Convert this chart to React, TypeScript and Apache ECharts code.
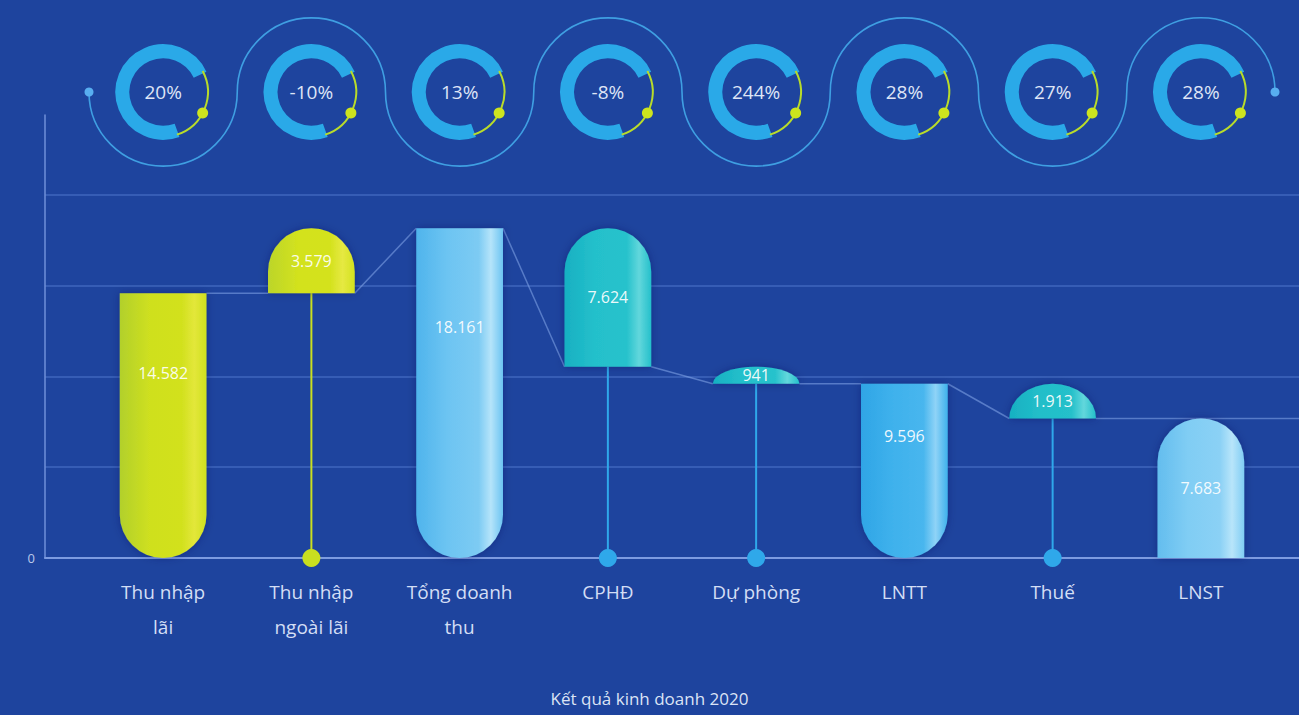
import React, { useEffect, useRef } from 'react';
import * as echarts from 'echarts';

// ---------- data ----------
const categories = ['Thu nhập\nlãi', 'Thu nhập\nngoài lãi', 'Tổng doanh\nthu', 'CPHĐ', 'Dự phòng', 'LNTT', 'Thuế', 'LNST'];
const values = [14582, 3579, 18161, 7624, 941, 9596, 1913, 7683];
const kinds = ['total', 'increase', 'total', 'decrease', 'decrease', 'total', 'decrease', 'total'];
const growthLabels = ['20%', '-10%', '13%', '-8%', '244%', '28%', '27%', '28%'];
const chartTitle = 'Kết quả kinh doanh 2020';
const yMin = 0;
const yMax = 24400;
const yInterval = 5000;

// ---------- styles ----------
const FONT = 'Open Sans';
const BG = '#1e449e';
const barColors: string[][] = [
  ['#b2d02c', '#cfe01f', '#e3e73a', '#d2e11f'],
  ['#bcd52a', '#d3e21e', '#e6e942', '#d4e21e'],
  ['#4fb4ec', '#6cc4f2', '#b5e4fa', '#7dcbf3'],
  ['#17b0c2', '#24c0cb', '#62d7dc', '#27c2cc'],
  ['#17b0c2', '#24c0cb', '#62d7dc', '#27c2cc'],
  ['#2fa5e6', '#3eb1ec', '#8fd3f7', '#48b6ee'],
  ['#17b0c2', '#22bec9', '#62d7dc', '#25c0ca'],
  ['#63bdee', '#80cdf4', '#b8e5fa', '#8bd1f5'],
];
const roundedEnd = ['bottom', 'top', 'bottom', 'top', 'top', 'bottom', 'top', 'top'];
const stemColors = ['', '#c9df1f', '', '#2fa8ea', '#2fa8ea', '', '#2fa8ea', ''];

// ---------- derived waterfall ----------
const lows: number[] = [];
const highs: number[] = [];
let running = 0;
values.forEach((v, i) => {
  if (kinds[i] === 'total') {
    lows.push(0);
    highs.push(v);
    running = v;
  } else if (kinds[i] === 'increase') {
    lows.push(running);
    highs.push(running + v);
    running += v;
  } else {
    lows.push(running - v);
    highs.push(running);
    running -= v;
  }
});
const anchors = kinds.map((k, i) => (k === 'total' ? highs[i] : lows[i]));

const fmt = (v: number) => String(v).replace(/\B(?=(\d{3})+(?!\d))/g, '.');

const BAR_RATIO = 0.585;

export default function App() {
  const ref = useRef<HTMLDivElement>(null);

  useEffect(() => {
    document.body.style.margin = '0';
    const chart = echarts.init(ref.current!, null, { renderer: 'svg' });

    const barData = values.map((_, i) => [i, lows[i], highs[i]]);
    const connectorData = anchors.slice(0, -1).map((a, i) => [i, a, anchors[i + 1]]);
    const ringData = growthLabels.map((_, i) => [i, 0]);

    const option: any = {
      animation: false,
      backgroundColor: BG,
      title: {
        text: chartTitle,
        left: 'center',
        top: 690,
        padding: 0,
        textStyle: { color: '#dbe3f5', fontSize: 17, fontWeight: 'normal', fontFamily: FONT },
      },
      grid: [
        { left: 45, right: 0, top: 115, bottom: 157 },
        { left: 89, right: 24, top: 115, bottom: 157 },
        { left: 89, right: 24, top: 17, height: 150 },
      ],
      xAxis: [
        {
          gridIndex: 0,
          type: 'category',
          data: [''],
          axisTick: { show: false },
          axisLabel: { show: false },
          axisLine: { show: true, lineStyle: { color: '#7d9be0', width: 2 } },
        },
        {
          gridIndex: 1,
          type: 'category',
          data: categories,
          axisTick: { show: false },
          axisLine: { show: false },
          axisLabel: {
            interval: 0,
            color: '#d3def5',
            fontSize: 19,
            lineHeight: 35,
            margin: 16,
            fontFamily: FONT,
          },
        },
        {
          gridIndex: 2,
          type: 'category',
          data: categories,
          show: false,
        },
      ],
      yAxis: [
        {
          gridIndex: 0,
          type: 'value',
          min: yMin,
          max: yMax,
          interval: yInterval,
          axisLine: { show: true, lineStyle: { color: '#6f8fd8', width: 1.5 } },
          axisTick: { show: false },
          axisLabel: {
            color: '#b9c8ea',
            fontSize: 13,
            fontFamily: FONT,
            margin: 10,
            formatter: (v: number) => (v === 0 ? '0' : ''),
          },
          splitLine: {
            show: true,
            showMinLine: false,
            showMaxLine: false,
            lineStyle: { color: 'rgba(105,145,228,0.45)', width: 1.5 },
          },
        },
        { gridIndex: 1, type: 'value', min: yMin, max: yMax, interval: yInterval, show: false },
        { gridIndex: 2, type: 'value', min: -1, max: 1, show: false },
      ],
      series: [
        // connectors
        {
          type: 'custom',
          xAxisIndex: 1,
          yAxisIndex: 1,
          data: connectorData,
          z: 3,
          renderItem: (params: any, api: any) => {
            const i = api.value(0);
            const a = api.coord([i, api.value(1)]);
            const b = api.coord([i + 1, api.value(2)]);
            const bw = api.size([1, 0])[0];
            const w = bw * BAR_RATIO;
            const pts: number[][] = [
              [a[0] + w / 2, a[1]],
              [b[0] - w / 2, b[1]],
            ];
            if (i === connectorData.length - 1) pts.push([api.getWidth(), b[1]]);
            return {
              type: 'polyline',
              shape: { points: pts },
              style: { stroke: 'rgba(135,170,235,0.55)', lineWidth: 1.5, fill: null },
            };
          },
        },
        // capsule bars
        {
          type: 'custom',
          xAxisIndex: 1,
          yAxisIndex: 1,
          data: barData,
          z: 4,
          renderItem: (params: any, api: any) => {
            const i = api.value(0);
            const pLo = api.coord([i, api.value(1)]);
            const pHi = api.coord([i, api.value(2)]);
            const bw = api.size([1, 0])[0];
            const w = bw * BAR_RATIO;
            const cx = pLo[0];
            const xl = cx - w / 2;
            const xr = cx + w / 2;
            const yt = pHi[1];
            const yb = pLo[1];
            const h = yb - yt;
            const r = w / 2;
            const ry = Math.min(r, h);
            let d: string;
            if (roundedEnd[i] === 'top') {
              d = `M${xl} ${yb} L${xl} ${yt + ry} A${r} ${ry} 0 0 1 ${xr} ${yt + ry} L${xr} ${yb} Z`;
            } else {
              d = `M${xl} ${yt} L${xr} ${yt} L${xr} ${yb - ry} A${r} ${ry} 0 0 1 ${xl} ${yb - ry} Z`;
            }
            const c = barColors[i];
            const children: any[] = [];
            if (kinds[i] !== 'total') {
              const base = api.coord([i, 0]);
              children.push({
                type: 'line',
                shape: { x1: cx, y1: yb, x2: cx, y2: base[1] },
                style: { stroke: stemColors[i], lineWidth: 2 },
              });
              children.push({
                type: 'circle',
                shape: { cx, cy: base[1], r: 9 },
                style: { fill: stemColors[i] },
              });
            }
            children.push({
              type: 'path',
              shape: { pathData: d },
              style: {
                fill: new echarts.graphic.LinearGradient(0, 0, 1, 0, [
                  { offset: 0, color: c[0] },
                  { offset: 0.35, color: c[1] },
                  { offset: 0.72, color: c[3] },
                  { offset: 0.86, color: c[2] },
                  { offset: 1, color: c[1] },
                ]),
                shadowBlur: 8,
                shadowColor: 'rgba(10,25,80,0.35)',
              },
            });
            const labelY = roundedEnd[i] === 'bottom' ? yt + h * 0.3 : yt + h / 2;
            children.push({
              type: 'text',
              style: {
                text: fmt(values[i]),
                x: cx,
                y: labelY,
                textAlign: 'center',
                textVerticalAlign: 'middle',
                verticalAlign: 'middle',
                fill: 'rgba(255,255,255,0.92)',
                fontSize: 16,
                fontFamily: FONT,
              },
            });
            return { type: 'group', children };
          },
        },
        // rings + wave
        {
          type: 'custom',
          xAxisIndex: 2,
          yAxisIndex: 2,
          data: ringData,
          z: 5,
          renderItem: (params: any, api: any) => {
            const i = api.value(0);
            const p = api.coord([i, 0]);
            const bw = api.size([1, 0])[0];
            const cx = p[0];
            const cy = p[1];
            const waveR = bw / 2;
            const ringR = bw * 0.275;
            const deg = Math.PI / 180;
            const under = i % 2 === 0;
            const children: any[] = [
              {
                type: 'arc',
                shape: {
                  cx,
                  cy,
                  r: waveR,
                  startAngle: under ? 0 : Math.PI,
                  endAngle: under ? Math.PI : Math.PI * 2,
                  clockwise: true,
                },
                style: { stroke: '#3f9fe2', lineWidth: 1.6, fill: null },
              },
              {
                type: 'arc',
                shape: { cx, cy, r: ringR, startAngle: 70 * deg, endAngle: 335 * deg, clockwise: true },
                style: { stroke: '#2aa9e8', lineWidth: 14, fill: null, lineCap: 'butt' },
              },
              {
                type: 'arc',
                shape: { cx, cy, r: ringR + 4, startAngle: -28 * deg, endAngle: 72 * deg, clockwise: true },
                style: { stroke: '#b9dc2a', lineWidth: 2, fill: null },
              },
              {
                type: 'circle',
                shape: { cx: cx + (ringR + 4) * Math.cos(28 * deg), cy: cy + (ringR + 4) * Math.sin(28 * deg), r: 5.5 },
                style: { fill: '#cde41e' },
              },
              {
                type: 'text',
                style: {
                  text: growthLabels[i],
                  x: cx,
                  y: cy,
                  textAlign: 'center',
                  textVerticalAlign: 'middle',
                  verticalAlign: 'middle',
                  fill: '#dfe5f6',
                  fontSize: 19,
                  fontFamily: FONT,
                },
              },
            ];
            if (i === 0) {
              children.push({ type: 'circle', shape: { cx: cx - waveR, cy, r: 4.5 }, style: { fill: '#58aef0' } });
            }
            if (i === ringData.length - 1) {
              children.push({ type: 'circle', shape: { cx: cx + waveR, cy, r: 4.5 }, style: { fill: '#58aef0' } });
            }
            return { type: 'group', children };
          },
        },
      ],
    };

    chart.setOption(option);
    return () => chart.dispose();
  }, []);

  return (
    <div
      ref={ref}
      style={{ position: 'fixed', left: 0, top: 0, width: 1299, height: 715, background: BG }}
    />
  );
}
